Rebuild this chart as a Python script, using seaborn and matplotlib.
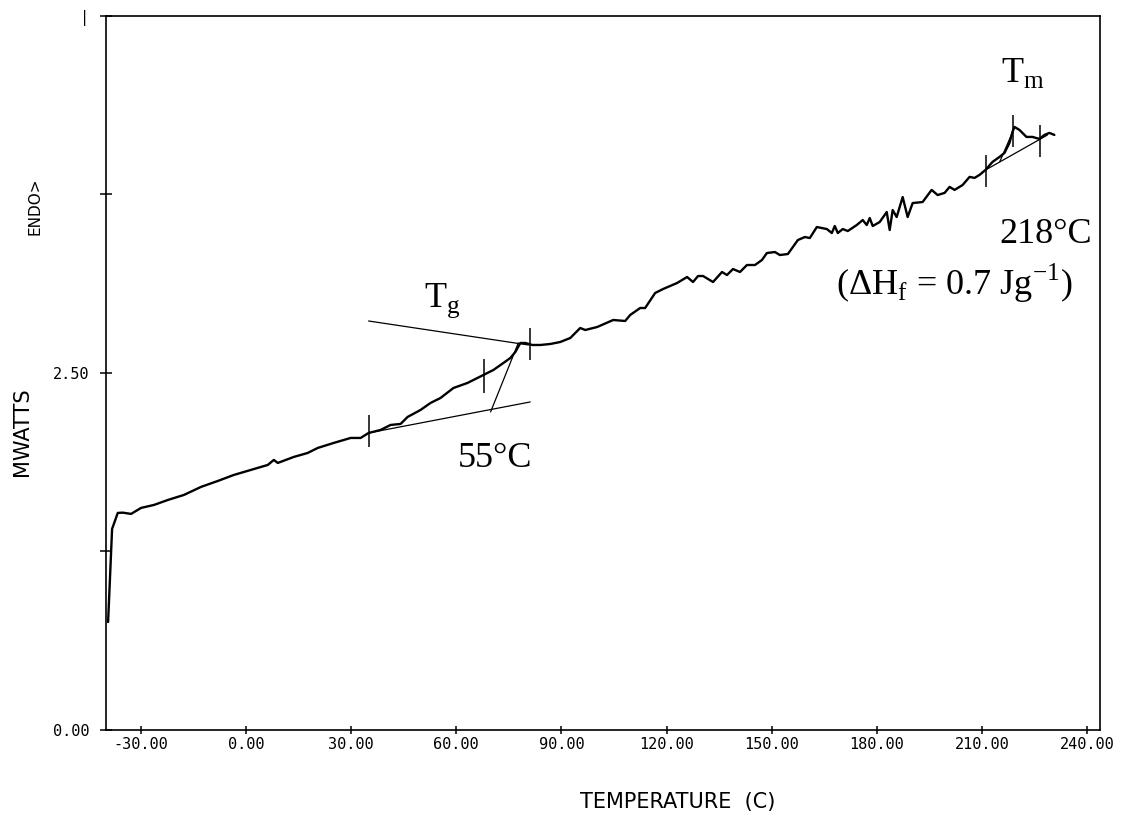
import matplotlib
matplotlib.use("Agg")
import matplotlib.pyplot as plt
import pandas as pd
import seaborn as sns

# ---- DSC trace (temperature in C, heat flow in mW) ----
temperature_c = [
    -39.29, -38.15, -36.53, -35.10, -32.74, -29.89, -26.19, -22.21, -17.65, -12.81,
    -7.97, -3.42, 1.42, 6.26, 7.97, 9.11, 13.67, 17.65, 20.50, 25.05,
    29.89, 32.74, 35.02, 38.43, 41.28, 44.13, 46.12, 49.82, 52.67, 55.52,
    59.22, 63.20, 66.05, 67.76, 70.60, 73.45, 75.44, 76.87, 78.29, 79.72,
    81.71, 83.99, 86.83, 89.68, 92.53, 95.37, 96.80, 100.21, 104.77, 108.19,
    109.61, 112.46, 113.88, 116.73, 119.00, 122.99, 125.84, 127.54, 128.97, 130.39,
    133.24, 135.80, 137.22, 138.93, 140.93, 142.92, 145.20, 147.19, 148.61, 150.89,
    152.31, 154.59, 157.44, 159.43, 160.85, 162.85, 165.69, 167.12, 167.97, 168.83,
    170.25, 171.67, 174.23, 175.94, 177.08, 177.94, 178.79, 180.78, 182.78, 183.63,
    184.48, 185.62, 187.33, 188.75, 190.18, 193.02, 195.59, 197.30, 199.29, 200.71,
    202.14, 204.41, 206.41, 207.83, 209.25, 210.96, 212.95, 214.95, 216.37, 217.79,
    218.65, 219.22, 220.64, 222.63, 224.34, 226.33, 227.76, 229.18, 230.60,
]
heat_flow_mw = [
    0.756, 1.408, 1.520, 1.522, 1.513, 1.555, 1.576, 1.611, 1.646, 1.702,
    1.744, 1.786, 1.821, 1.856, 1.891, 1.870, 1.912, 1.940, 1.975, 2.010,
    2.045, 2.045, 2.080, 2.101, 2.136, 2.143, 2.192, 2.241, 2.290, 2.325,
    2.395, 2.430, 2.465, 2.486, 2.521, 2.570, 2.605, 2.647, 2.710, 2.710,
    2.696, 2.696, 2.703, 2.717, 2.745, 2.815, 2.801, 2.822, 2.871, 2.864,
    2.906, 2.955, 2.955, 3.060, 3.088, 3.130, 3.172, 3.137, 3.179, 3.179,
    3.137, 3.207, 3.186, 3.228, 3.207, 3.256, 3.256, 3.291, 3.340, 3.347,
    3.326, 3.333, 3.431, 3.452, 3.445, 3.522, 3.508, 3.480, 3.529, 3.480,
    3.508, 3.494, 3.536, 3.571, 3.536, 3.585, 3.529, 3.557, 3.627, 3.501,
    3.641, 3.592, 3.732, 3.592, 3.690, 3.697, 3.782, 3.746, 3.761, 3.803,
    3.782, 3.816, 3.873, 3.866, 3.887, 3.922, 3.978, 4.013, 4.041, 4.111,
    4.188, 4.223, 4.202, 4.153, 4.153, 4.139, 4.167, 4.181, 4.167,
]

# ---- axis ticks ----
x_ticks = [-30, 0, 30, 60, 90, 120, 150, 180, 210, 240]
x_tick_labels = ["-30.00", "0.00", "30.00", "60.00", "90.00", "120.00",
                 "150.00", "180.00", "210.00", "240.00"]
y_ticks = [0.0, 1.25, 2.5, 3.75, 5.0]
y_tick_labels = ["0.00", "", "2.50", "", "|"]

# ---- glass transition construction ----
tg_upper_t = [35.0, 80.6]
tg_upper_y = [2.864, 2.696]
tg_lower_t = [35.0, 81.1]
tg_lower_y = [2.080, 2.297]
tg_link_t = [69.8, 77.7]
tg_link_y = [2.227, 2.710]
tg_mark_t = [35.0, 67.8, 81.1]
tg_mark_lo = [1.982, 2.360, 2.591]
tg_mark_hi = [2.206, 2.598, 2.815]

# ---- melting construction ----
tm_base_t = [211.0, 228.6]
tm_base_y = [3.922, 4.166]
tm_link_t = [215.0, 218.7]
tm_link_y = [3.978, 4.188]
tm_mark_t = [211.0, 218.9, 226.6]
tm_mark_lo = [3.803, 4.083, 4.013]
tm_mark_hi = [4.027, 4.307, 4.237]

# ---- annotations ----
tg_label = r"T$_\mathregular{g}$"
tg_value = "55°C"
tm_label = r"T$_\mathregular{m}$"
tm_value = "218°C"
dh_label = r"(ΔH$_\mathregular{f}$ = 0.7 Jg$^\mathregular{-1}$)"

sns.set_theme(style="ticks")
plt.rcParams["font.family"] = ["DejaVu Sans"]
plt.rcParams["mathtext.fontset"] = "custom"
plt.rcParams["mathtext.rm"] = "Liberation Serif"
for key in ["text.color", "axes.labelcolor", "xtick.color", "ytick.color",
            "axes.edgecolor"]:
    plt.rcParams[key] = "black"

fig = plt.figure(figsize=(11.32, 8.19), dpi=100)
ax = fig.add_axes([0.0936, 0.1087, 0.8781, 0.8718])

df = pd.DataFrame({"temperature": temperature_c, "heat": heat_flow_mw})
sns.lineplot(data=df, x="temperature", y="heat", ax=ax, color="black",
             linewidth=1.7, sort=False, estimator=None)

lw_c = 0.9
ax.plot(tg_upper_t, tg_upper_y, color="black", lw=lw_c)
ax.plot(tg_lower_t, tg_lower_y, color="black", lw=lw_c)
ax.plot(tg_link_t, tg_link_y, color="black", lw=lw_c)
ax.vlines(tg_mark_t, tg_mark_lo, tg_mark_hi, color="black", lw=1.1)
ax.plot(tm_base_t, tm_base_y, color="black", lw=lw_c)
ax.plot(tm_link_t, tm_link_y, color="black", lw=lw_c)
ax.vlines(tm_mark_t, tm_mark_lo, tm_mark_hi, color="black", lw=1.1)

serif = ["Liberation Serif", "DejaVu Serif"]
fs = 26
ax.text(50.7, 2.962, tg_label, family=serif, fontsize=fs, ha="left", va="baseline", color="black")
ax.text(60.4, 1.842, tg_value, family=serif, fontsize=fs, ha="left", va="baseline", color="black")
ax.text(215.5, 4.538, tm_label, family=serif, fontsize=fs, ha="left", va="baseline", color="black")
ax.text(215.0, 3.410, tm_value, family=serif, fontsize=fs, ha="left", va="baseline", color="black")
ax.text(235.7, 3.046, dh_label, family=serif, fontsize=fs, ha="right", va="baseline", color="black")

ax.set_xlim(-39.9, 243.6)
ax.set_ylim(0.0, 5.0)
ax.set_xticks(x_ticks)
ax.set_xticklabels(x_tick_labels)
ax.set_yticks(y_ticks)
ax.set_yticklabels(y_tick_labels)
ax.set_xlabel("")
ax.set_ylabel("")

for side in ["left", "right", "top", "bottom"]:
    ax.spines[side].set_visible(True)
    ax.spines[side].set_color("black")
    ax.spines[side].set_linewidth(1.2)

mono = ["DejaVu Sans Mono"]
ax.tick_params(axis="x", direction="inout", length=6, width=1.1, pad=2,
               colors="black", labelsize=11)
ax.tick_params(axis="y", direction="inout", length=9, width=1.1, pad=7.5,
               colors="black", labelsize=11)
for lab in ax.get_xticklabels() + ax.get_yticklabels():
    lab.set_family(mono)
    lab.set_color("black")

fig.text(22 / 1132, 1 - 432 / 819, "MWATTS", rotation=90, ha="center", va="center",
         fontsize=15, family=["DejaVu Sans"], color="black")
fig.text(35 / 1132, 1 - 206 / 819, "ENDO>", rotation=90, ha="center", va="center",
         fontsize=11, family=["DejaVu Sans"], color="black")
fig.text(775 / 1132, 1 - 802 / 819, "TEMPERATURE  (C)", ha="right", va="center",
         fontsize=15, family=["DejaVu Sans"], color="black")

fig.savefig("out.png", dpi=100, facecolor="white")
